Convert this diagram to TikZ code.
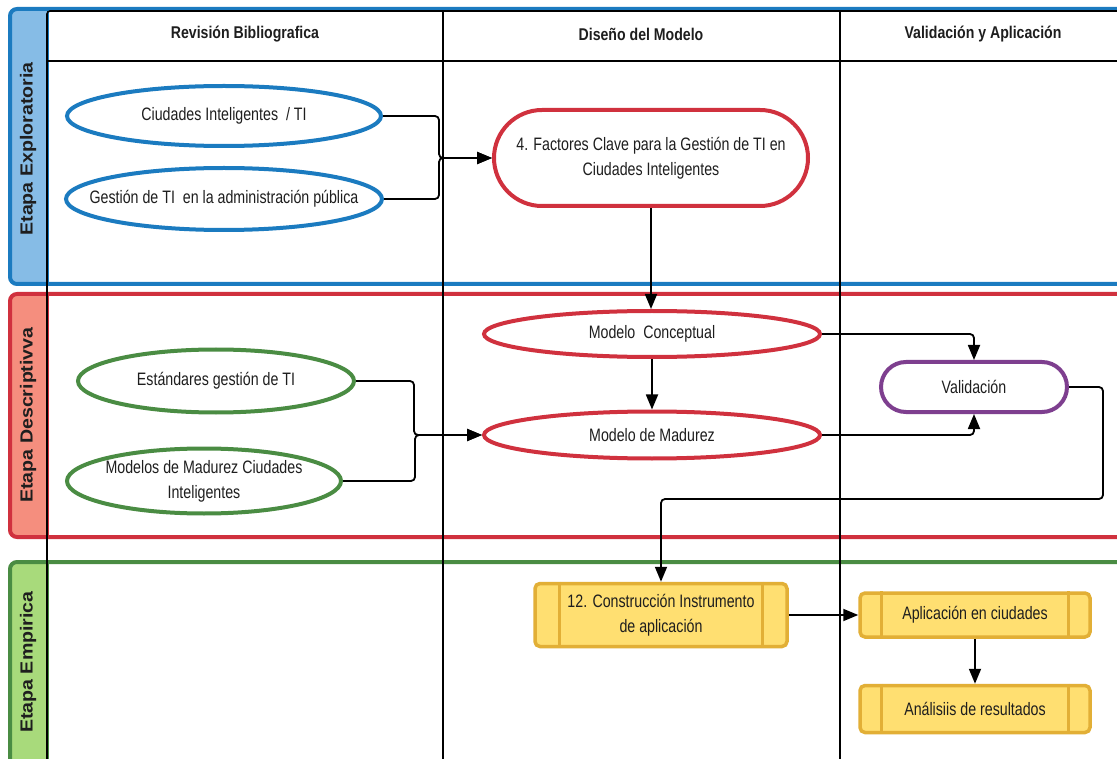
\documentclass[tikz,border=0pt]{standalone}
\usepackage{fontspec}
\setmainfont{Liberation Sans}
\newfontfamily\narrowfont[FakeStretch=0.79]{Liberation Sans}
\newfontfamily\headfont[FakeStretch=0.83]{Liberation Sans}
\newfontfamily\lanefont[FakeStretch=1.12]{Liberation Sans}
\usetikzlibrary{arrows.meta,shapes.geometric,shapes.misc}

\definecolor{exBlue}{HTML}{1B7BC0}
\definecolor{exBlueL}{HTML}{86BCE6}
\definecolor{deRed}{HTML}{D0313E}
\definecolor{deRedL}{HTML}{F58E7E}
\definecolor{emGreen}{HTML}{4A8C43}
\definecolor{emGreenL}{HTML}{A8DA7B}
\definecolor{valPurple}{HTML}{7E3F8F}
\definecolor{procFill}{HTML}{FFDF71}
\definecolor{procLine}{HTML}{E2AF36}
\definecolor{txt}{HTML}{1E1E1E}

\begin{document}
\begin{tikzpicture}[x=1pt,y=-1pt,
  nodetext/.style={text=txt, font=\narrowfont\fontsize{18}{25}\selectfont, align=center, inner sep=0pt},
  % negative inner sep keeps each ellipse at its minimum size
  oval/.style={nodetext, ellipse, line width=4pt, fill=white, inner xsep=-80pt, inner ysep=-20pt},
  stadium/.style={nodetext, rounded rectangle, line width=4pt, fill=white},
  procbox/.style={nodetext, rectangle, rounded corners=5pt, line width=3.5pt, draw=procLine, fill=procFill},
  hdr/.style={text=txt, font=\headfont\bfseries\fontsize{17}{20}\selectfont},
  lanelabel/.style={text=txt, rotate=90, font=\lanefont\bfseries\fontsize{17.5}{20}\selectfont},
  gridline/.style={black, line width=1.6pt},
  link/.style={black, line width=1.8pt, rounded corners=4pt},
  conn/.style={link, -{Triangle[length=15pt,width=12pt]}}
]
\useasboundingbox (0,0) rectangle (1117,759);
\clip (0,0) rectangle (1117,759);

% swimlanes: white body, coloured label column, coloured frame
\foreach \ytop/\ybot/\lc/\fc in {9/284/exBlue/exBlueL, 294/537/deRed/deRedL, 562/800/emGreen/emGreenL}{
  \fill[white, rounded corners=7pt] (10,\ytop) rectangle (1140,\ybot);
  \begin{scope}
    \clip (0,\ytop) rectangle (48,\ybot);
    \fill[\fc, rounded corners=7pt] (10,\ytop) rectangle (1140,\ybot);
  \end{scope}
  \draw[\lc, line width=2pt] (48,\ytop) -- (48,\ybot);
  \draw[\lc, line width=4pt, rounded corners=7pt] (10,\ytop) rectangle (1140,\ybot);
}

\node[lanelabel] (lane1) at (28,149) {Etapa Exploratoria};
\node[lanelabel] (lane2) at (28,415) {Etapa Descriptivva};
\node[lanelabel] (lane3) at (28,662) {Etapa Empirica};

% column grid and header row
\draw[gridline, rounded corners=3pt] (47,759) -- (47,11) -- (1117,11);
\draw[gridline, line width=2pt] (47,61) -- (1117,61);
\draw[gridline] (443,11) -- (443,759);
\draw[gridline] (840,11) -- (840,759);

\node[hdr] (h1) at (245,34) {Revisión Bibliografica};
\node[hdr] (h2) at (641,34) {Diseño del Modelo};
\node[hdr] (h3) at (983,34) {Validación y Aplicación};

% exploratory stage
\node[oval, draw=exBlue, minimum width=314pt, minimum height=60pt] (ciu) at (224,116) {Ciudades Inteligentes~ / TI};
\node[oval, draw=exBlue, minimum width=316pt, minimum height=62pt] (ges) at (224,199) {Gestión de TI~ en la administración pública};
\node[stadium, draw=deRed, minimum width=314pt, minimum height=96pt] (fac) at (651,158) {4. Factores Clave para la Gestión de TI en\\Ciudades Inteligentes};

% descriptive stage
\node[oval, draw=deRed, minimum width=336pt, minimum height=46pt] (mc) at (652,334) {Modelo~ Conceptual};
\node[oval, draw=deRed, minimum width=336pt, minimum height=47pt] (mm) at (652,435) {Modelo de Madurez};
\node[oval, draw=emGreen, minimum width=276pt, minimum height=63pt] (est) at (216,381) {Estándares gestión de TI};
\node[oval, draw=emGreen, minimum width=274pt, minimum height=65pt] (mod) at (204,481) {Modelos de Madurez Ciudades\\Inteligentes};
\node[stadium, draw=valPurple, minimum width=186pt, minimum height=50pt] (val) at (974,387) {Validación};

% empirical stage
\node[procbox, minimum width=252pt, minimum height=63pt] (con) at (661,615) {12. Construcción Instrumento\\de aplicación};
\node[procbox, minimum width=230pt, minimum height=44pt] (apl) at (975,615) {Aplicación en ciudades};
\node[procbox, minimum width=230pt, minimum height=47pt] (ana) at (975,709) {Análisiis de resultados};

\foreach \n/\d in {con/26, apl/23, ana/23}{
  \draw[procLine, line width=3pt] ([xshift=\d pt]\n.north west) -- ([xshift=\d pt]\n.south west);
  \draw[procLine, line width=3pt] ([xshift=-\d pt]\n.north east) -- ([xshift=-\d pt]\n.south east);
}

% connectors
\coordinate (vturn) at (1103,499);
\draw[conn] (ciu.east) -- ++(56,0) |- (fac.west);
\draw[conn] (ges.east) -- ++(55,0) |- (fac.west);
\draw[conn] (fac.south) -- (fac.south |- mc.north);
\draw[conn] (mc.south) -- (mm.north);
\draw[conn] (est.east) -- ++(58,0) |- (mm.west);
\draw[conn] (mod.east) -- ++(72,0) |- (mm.west);
\draw[conn] (mc.east) -| (val.north);
\draw[conn] (mm.east) -| (val.south);
\draw[conn] (val.east) -| (vturn) -| (con.north);
\draw[conn] (con.east) -- (apl.west);
\draw[conn] (apl.south) -- (ana.north);
\end{tikzpicture}
\end{document}
